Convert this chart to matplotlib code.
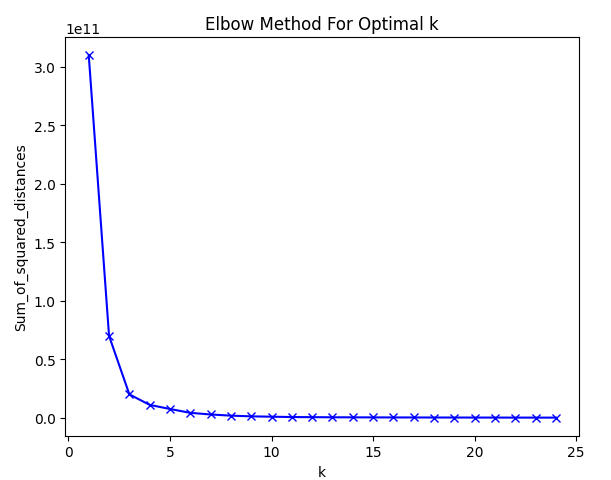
import numpy as np
import matplotlib
matplotlib.use('Agg')
import matplotlib.pyplot as plt

# Valores
K = list(range(1, 25))
Sum_of_squared_distances = [3.10e11, 0.70e11, 0.20e11, 0.11e11, 0.075e11, 0.042e11,
                            0.028e11, 0.018e11, 0.012e11, 0.009e11, 0.006e11, 0.005e11,
                            0.004e11, 0.0035e11, 0.003e11, 0.0027e11, 0.0024e11, 0.0021e11,
                            0.0019e11, 0.0017e11, 0.0015e11, 0.0013e11, 0.0012e11, 0.0011e11]


def main():
    fig = plt.figure(figsize=(6.11, 4.81), dpi=100)
    ax = fig.add_axes([0.107, 0.092, 0.841, 0.829])
    ax.plot(K, Sum_of_squared_distances, 'bx-')
    ax.set_xlabel('k')
    ax.set_ylabel('Sum_of_squared_distances')
    ax.set_title('Elbow Method For Optimal k')
    fig.savefig('out.png', dpi=100)


if __name__ == "__main__":
    main()
